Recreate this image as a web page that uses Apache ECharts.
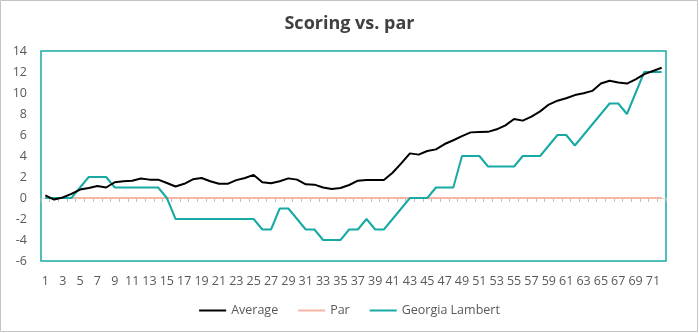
<!DOCTYPE html>
<html>
<head>
<meta charset="utf-8">
<script src="https://cdn.jsdelivr.net/npm/echarts@6/dist/echarts.min.js"></script>
<style>
html,body{margin:0;padding:0;background:#fff;}
#chart{width:699px;height:333px;}
</style>
</head>
<body>
<div id="chart"></div>
<script>
const holes = Array.from({length: 72}, (_, i) => String(i + 1));
const average = [0.25,-0.15,0.05,0.4,0.8,0.95,1.15,1.0,1.5,1.6,1.65,1.85,1.75,1.75,1.43,1.1,1.35,1.78,1.9,1.6,1.35,1.35,1.7,1.9,2.2,1.5,1.4,1.6,1.87,1.75,1.3,1.27,1.0,0.86,0.95,1.24,1.65,1.72,1.71,1.71,2.4,3.3,4.25,4.13,4.48,4.63,5.14,5.5,5.9,6.25,6.29,6.3,6.54,6.92,7.52,7.37,7.75,8.25,8.9,9.27,9.5,9.8,9.97,10.2,10.9,11.17,11.0,10.9,11.3,11.8,12.1,12.4];
const par = Array.from({length: 72}, () => 0);
const georgia = [0,0,0,0,1,2,2,2,1,1,1,1,1,1,0,-2,-2,-2,-2,-2,-2,-2,-2,-2,-2,-3,-3,-1,-1,-2,-3,-3,-4,-4,-4,-3,-3,-2,-3,-3,-2,-1,0,0,0,1,1,1,4,4,4,3,3,3,3,4,4,4,5,6,6,5,6,7,8,9,9,8,10,12,12,12];
const yTicks = {min: -6, max: 14, interval: 2};

const teal = '#17A9A4';
const salmon = '#F7B5A3';
const font = '"Open Sans", "Noto Sans", sans-serif';

const chart = echarts.init(document.getElementById('chart'), null, {renderer: 'canvas'});
chart.setOption({
  animation: false,
  backgroundColor: '#fff',
  title: {
    text: 'Scoring vs. par',
    left: 'center',
    top: 10,
    textStyle: {fontFamily: font, fontSize: 18, fontWeight: 'bold', color: '#404040'}
  },
  legend: {
    bottom: 11,
    left: 'center',
    itemWidth: 27,
    itemHeight: 2,
    itemGap: 20,
    icon: 'rect',
    textStyle: {fontFamily: font, fontSize: 12.5, color: '#595959'},
    data: ['Average', 'Par', 'Georgia Lambert']
  },
  grid: {
    left: 41, right: 33, top: 51, bottom: 72,
    show: true, borderColor: teal, borderWidth: 1.5, backgroundColor: 'transparent'
  },
  graphic: [{
    type: 'rect', silent: true, z: -1,
    shape: {x: 0.5, y: 0.5, width: 697, height: 331},
    style: {fill: 'none', stroke: '#c4c4c4', lineWidth: 1}
  }],
  xAxis: [{
    type: 'category',
    data: holes,
    boundaryGap: true,
    position: 'bottom',
    axisLine: {show: false, onZero: false},
    axisTick: {show: false},
    splitLine: {show: false},
    axisLabel: {interval: 1, margin: 14, fontFamily: font, fontSize: 12.5, color: '#595959'}
  }, {
    type: 'category',
    data: holes,
    boundaryGap: true,
    position: 'bottom',
    axisLine: {show: true, onZero: true, lineStyle: {color: '#d9d9d9', width: 1}},
    axisTick: {show: true, interval: 0, length: 4, lineStyle: {color: '#bfbfbf'}},
    axisLabel: {show: false},
    splitLine: {show: false}
  }],
  yAxis: {
    type: 'value',
    min: yTicks.min, max: yTicks.max, interval: yTicks.interval,
    axisLine: {show: false},
    axisTick: {show: false},
    splitLine: {show: false},
    axisLabel: {margin: 14, fontFamily: font, fontSize: 12.5, color: '#595959'}
  },
  series: [{
    name: 'Average', type: 'line', data: average, xAxisIndex: 0,
    symbol: 'none', z: 4,
    lineStyle: {color: '#000', width: 2}, itemStyle: {color: '#000'}
  }, {
    name: 'Par', type: 'line', data: par, xAxisIndex: 0,
    symbol: 'none', z: 2,
    lineStyle: {color: salmon, width: 2}, itemStyle: {color: salmon}
  }, {
    name: 'Georgia Lambert', type: 'line', data: georgia, xAxisIndex: 0,
    symbol: 'none', z: 3,
    lineStyle: {color: teal, width: 2}, itemStyle: {color: teal}
  }]
});
</script>
</body>
</html>
